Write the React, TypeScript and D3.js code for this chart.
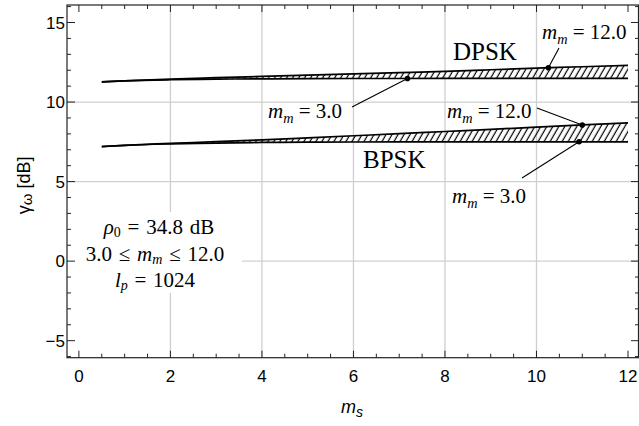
import React from "react";
import * as d3 from "d3";

// ---- data ----
const msValues = [0.5, 1, 2, 3, 4, 5, 6, 7, 8, 9, 10, 11, 12];
const dpskMm3 = [11.27, 11.33, 11.4, 11.44, 11.46, 11.47, 11.48, 11.48, 11.49, 11.49, 11.49, 11.49, 11.49];
const dpskMm12 = [11.27, 11.33, 11.44, 11.53, 11.61, 11.69, 11.77, 11.85, 11.93, 12.03, 12.13, 12.22, 12.31];
const bpskMm3 = [7.2, 7.28, 7.37, 7.42, 7.46, 7.48, 7.49, 7.5, 7.5, 7.5, 7.5, 7.5, 7.5];
const bpskMm12 = [7.2, 7.28, 7.4, 7.51, 7.62, 7.75, 7.88, 8.01, 8.15, 8.28, 8.42, 8.56, 8.69];

const xMajorTicks = [0, 2, 4, 6, 8, 10, 12];
const yMajorTicks = [-5, 0, 5, 10, 15];
const xGrid = [2, 4, 6, 8, 10];
const yGrid = [0, 5, 10];

// annotated points: which curve and its m_s value
const calloutCurves = ["dpsk12", "dpsk3", "bpsk12", "bpsk3"];
const calloutMs = [10.26, 7.18, 11.0, 10.93];
const calloutMm = ["12.0", "3.0", "12.0", "3.0"];

const W = 639;
const H = 426;

const x = d3.scaleLinear().domain([-0.26, 12.24]).range([67, 639]);
const y = d3.scaleLinear().domain([-6.07, 16.1]).range([357.7, 5]);

const curves: Record<string, number[]> = {
  dpsk3: dpskMm3,
  dpsk12: dpskMm12,
  bpsk3: bpskMm3,
  bpsk12: bpskMm12,
};

function interp(vals: number[], xv: number) {
  const i = Math.min(Math.max(d3.bisectRight(msValues, xv), 1), msValues.length - 1);
  const x0 = msValues[i - 1], x1 = msValues[i];
  const t = (xv - x0) / (x1 - x0);
  return vals[i - 1] + t * (vals[i] - vals[i - 1]);
}

const line = d3
  .line<number>()
  .x((_, i) => x(msValues[i]))
  .y((d) => y(d))
  .curve(d3.curveMonotoneX);

const area = (lo: number[], hi: number[]) =>
  d3
    .area<number>()
    .x((_, i) => x(msValues[i]))
    .y0((_, i) => y(lo[i]))
    .y1((_, i) => y(hi[i]))
    .curve(d3.curveMonotoneX)(msValues as any);

const serif = "'Liberation Serif', 'Times New Roman', serif";
const sans = "'Liberation Sans', Arial, sans-serif";

// label layout (pixels) for each callout, same order as calloutCurves
const calloutLayout = [
  { tx: 542, ty: 39, lx: 559, ly: 48 },
  { tx: 268, ty: 118, lx: 352, ly: 107 },
  { tx: 447, ty: 118, lx: 537, ly: 108 },
  { tx: 452, ty: 203, lx: 522, ly: 178 },
];

function MmLabel({ tx, ty, value, size }: { tx: number; ty: number; value: string; size: number }) {
  return (
    <text x={tx} y={ty} fontFamily={serif} fontSize={size} fill="#000">
      <tspan fontStyle="italic">m</tspan>
      <tspan fontStyle="italic" fontSize={size * 0.68} dy={size * 0.22}>m</tspan>
      <tspan dy={-size * 0.22}>{" = " + value}</tspan>
    </text>
  );
}

export default function App() {
  const xMinor = d3.range(0, 12.01, 0.5);
  const yMinor = d3.range(-6, 16.01, 1);
  const left = x.range()[0];
  const right = x.range()[1];
  const top = y.range()[1];
  const bottom = y.range()[0];
  const labelSize = 21;
  const boxSize = 21;

  return (
    <svg
      width={W}
      height={H}
      style={{ position: "absolute", left: 0, top: 0, background: "#fff" }}
    >
      <defs>
        <pattern
          id="hatch"
          patternUnits="userSpaceOnUse"
          width={5.2}
          height={10}
          patternTransform="rotate(30)"
        >
          <line x1={1.2} y1={0} x2={1.2} y2={10} stroke="#000" strokeWidth={1.2} />
        </pattern>
        <clipPath id="plotClip">
          <rect x={left} y={top} width={right - left} height={bottom - top} />
        </clipPath>
      </defs>
      <rect x={0} y={0} width={W} height={H} fill="#fff" />

      {/* grid */}
      <g stroke="#cfcfcf" strokeWidth={1.3}>
        {xGrid.map((v) => (
          <line key={"gx" + v} x1={x(v)} x2={x(v)} y1={top} y2={bottom} />
        ))}
        {yGrid.map((v) => (
          <line key={"gy" + v} x1={left} x2={right} y1={y(v)} y2={y(v)} />
        ))}
      </g>

      {/* hatched regions */}
      <g clipPath="url(#plotClip)">
        <path d={area(dpskMm3, dpskMm12) || ""} fill="url(#hatch)" />
        <path d={area(bpskMm3, bpskMm12) || ""} fill="url(#hatch)" />
        {Object.keys(curves).map((k) => (
          <path key={k} d={line(curves[k]) || ""} fill="none" stroke="#000" strokeWidth={1.7} />
        ))}
      </g>

      {/* callouts */}
      {calloutCurves.map((c, i) => {
        const px = x(calloutMs[i]);
        const py = y(interp(curves[c], calloutMs[i]));
        const L = calloutLayout[i];
        return (
          <g key={"co" + i}>
            <line x1={L.lx} y1={L.ly} x2={px} y2={py} stroke="#000" strokeWidth={1.1} />
            <circle cx={px} cy={py} r={2.8} fill="#000" />
            <MmLabel tx={L.tx} ty={L.ty} value={calloutMm[i]} size={labelSize} />
          </g>
        );
      })}

      <text x={453} y={60} fontFamily={serif} fontSize={25}>DPSK</text>
      <text x={363} y={168} fontFamily={serif} fontSize={25}>BPSK</text>

      {/* parameter box */}
      <rect x={left + 1} y={212} width={242 - left - 1} height={81} fill="#fff" />
      <g fontFamily={serif} fontSize={boxSize} textAnchor="middle" wordSpacing={1.5}>
        <text x={159} y={234}>
          <tspan fontStyle="italic">ρ</tspan>
          <tspan fontSize={14} dy={3}>0</tspan>
          <tspan dy={-3}>{" = 34.8 dB"}</tspan>
        </text>
        <text x={155} y={261}>
          <tspan>{"3.0 ≤ "}</tspan>
          <tspan fontStyle="italic">m</tspan>
          <tspan fontStyle="italic" fontSize={14} dy={3}>m</tspan>
          <tspan dy={-3}>{" ≤ 12.0"}</tspan>
        </text>
        <text x={155} y={287}>
          <tspan fontStyle="italic">l</tspan>
          <tspan fontStyle="italic" fontSize={14} dy={3}>p</tspan>
          <tspan dy={-3}>{" = 1024"}</tspan>
        </text>
      </g>

      {/* frame */}
      <rect x={left} y={top} width={right - left - 0.5} height={bottom - top} fill="none" stroke="#222" strokeWidth={1.2} />

      {/* ticks */}
      <g stroke="#222" strokeWidth={1}>
        {xMinor.map((v) => {
          const major = xMajorTicks.includes(v);
          const len = major ? 7 : 4;
          return (
            <g key={"xt" + v}>
              <line x1={x(v)} x2={x(v)} y1={bottom} y2={bottom - len} />
              <line x1={x(v)} x2={x(v)} y1={top} y2={top + len} />
            </g>
          );
        })}
        {yMinor.map((v) => {
          const major = yMajorTicks.includes(v);
          const len = major ? 8 : 4;
          return (
            <g key={"yt" + v}>
              <line x1={left} x2={left + len} y1={y(v)} y2={y(v)} />
              <line x1={right} x2={right - len} y1={y(v)} y2={y(v)} />
            </g>
          );
        })}
      </g>

      {/* tick labels */}
      <g fontFamily={sans} fontSize={17} fill="#000">
        {xMajorTicks.map((v) => (
          <text key={"xl" + v} x={x(v)} y={382} textAnchor="middle">
            {v}
          </text>
        ))}
        {yMajorTicks.map((v) => (
          <text key={"yl" + v} x={65} y={y(v)} dy="0.36em" textAnchor="end">
            {v < 0 ? "−" + Math.abs(v) : v}
          </text>
        ))}
      </g>

      {/* axis labels */}
      <text x={352} y={413} fontFamily={sans} fontSize={18} textAnchor="middle" fontStyle="italic">
        <tspan>m</tspan>
        <tspan fontSize={14} dy={4}>s</tspan>
      </text>
      <text
        transform={`translate(30,${(top + bottom) / 2 + 4}) rotate(-90)`}
        fontFamily={sans}
        fontSize={18}
        textAnchor="middle"
      >
        <tspan>γ</tspan>
        <tspan fontSize={15} dy={2}>ω</tspan>
        <tspan dy={-2}>{" [dB]"}</tspan>
      </text>
    </svg>
  );
}
